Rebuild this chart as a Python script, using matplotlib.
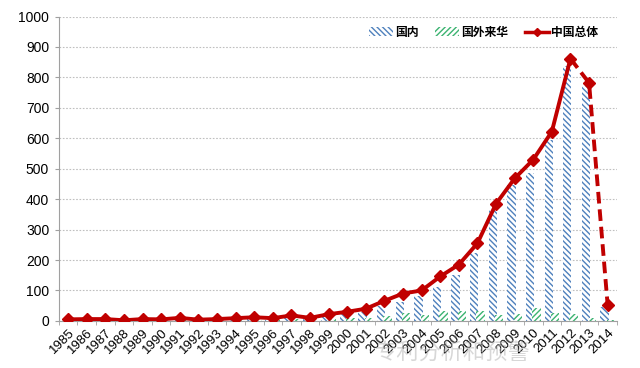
import matplotlib
matplotlib.use("Agg")
import matplotlib.pyplot as plt
import numpy as np
from matplotlib.lines import Line2D
from matplotlib.patches import Patch

plt.rcParams['font.family'] = ['Liberation Sans', 'Noto Sans CJK SC', 'DejaVu Sans']
plt.rcParams['hatch.linewidth'] = 1.0

years = [str(y) for y in range(1985, 2015)]
domestic = [3, 4, 4, 1, 4, 3, 7, 2, 4, 6, 8, 6, 12, 7, 14, 22, 30, 50, 63, 82,
            112, 152, 222, 365, 445, 487, 595, 838, 772, 46]
foreign = [1, 1, 1, 0, 1, 1, 2, 1, 1, 2, 3, 2, 5, 2, 6, 8, 9, 15, 27, 18,
           33, 31, 31, 20, 22, 42, 27, 22, 9, 4]
total = [5, 6, 6, 2, 6, 5, 10, 4, 6, 9, 12, 9, 18, 10, 22, 30, 40, 66, 90, 100,
         146, 185, 255, 385, 468, 530, 622, 862, 782, 52]

labels = ['国内', '国外来华', '中国总体']
blue = '#4F81BD'
green = '#3CB371'
red = '#C00000'

fig = plt.figure(figsize=(6.4, 3.68), dpi=100)
ax = fig.add_axes([0.092, 0.128, 0.872, 0.827])

x = np.arange(len(years))
w = 0.45
ax.bar(x - 0.17, domestic, width=w, color='white', edgecolor=blue, hatch='\\\\\\\\\\\\', linewidth=0, zorder=2)
ax.bar(x + 0.17, foreign, width=w, color='white', edgecolor=green, hatch='//////', linewidth=0, zorder=2)

n_solid = years.index('2012') + 1
ax.plot(x[:n_solid], total[:n_solid], color=red, lw=2.8, marker='D', ms=6,
        markerfacecolor=red, markeredgecolor=red, zorder=4)
ax.plot(x[n_solid - 1:], total[n_solid - 1:], color=red, lw=2.8, ls=(0, (3, 1.5)), marker='D', ms=6,
        markerfacecolor=red, markeredgecolor=red, zorder=4, markevery=[1, 2])

ax.set_xlim(-0.5, len(years) - 0.5)
ax.set_ylim(0, 1000)
ax.set_yticks(range(0, 1001, 100))
ax.yaxis.grid(True, color='#BFBFBF', ls=(0, (1.5, 1.5)), lw=0.8, zorder=0)
ax.set_axisbelow(True)

ax.set_xticks(x)
ax.set_xticklabels(years, rotation=45, ha='right', rotation_mode='anchor', fontsize=9.5)
ax.set_xticks(np.arange(-0.5, len(years), 1), minor=True)
ax.tick_params(axis='x', which='major', length=0, pad=4)
ax.tick_params(axis='x', which='minor', length=3, color='#A0A0A0')
ax.tick_params(axis='y', length=3, color='#A0A0A0', labelsize=10, pad=4)

for s in ['top', 'right']:
    ax.spines[s].set_visible(False)
for s in ['left', 'bottom']:
    ax.spines[s].set_color('#A0A0A0')
    ax.spines[s].set_linewidth(0.8)

handles = [Patch(facecolor='white', edgecolor=blue, hatch='\\\\\\\\\\\\', linewidth=0),
           Patch(facecolor='white', edgecolor=green, hatch='//////', linewidth=0),
           Line2D([0], [0], color=red, lw=2.5, marker='D', ms=4)]
leg = ax.legend(handles, labels, loc='upper right', bbox_to_anchor=(0.985, 1.005), ncol=3,
                frameon=False, handlelength=2.0, handleheight=0.7,
                columnspacing=1.4, handletextpad=0.2,
                prop={'family': ['Noto Sans CJK SC'], 'weight': 'bold', 'size': 8.5})

fig.text(0.585, 0.025, '专利分析和预警', fontsize=16, color='#B0B0B0', alpha=0.5,
         family=['Noto Sans CJK SC'])

fig.savefig('out.png', dpi=100)
